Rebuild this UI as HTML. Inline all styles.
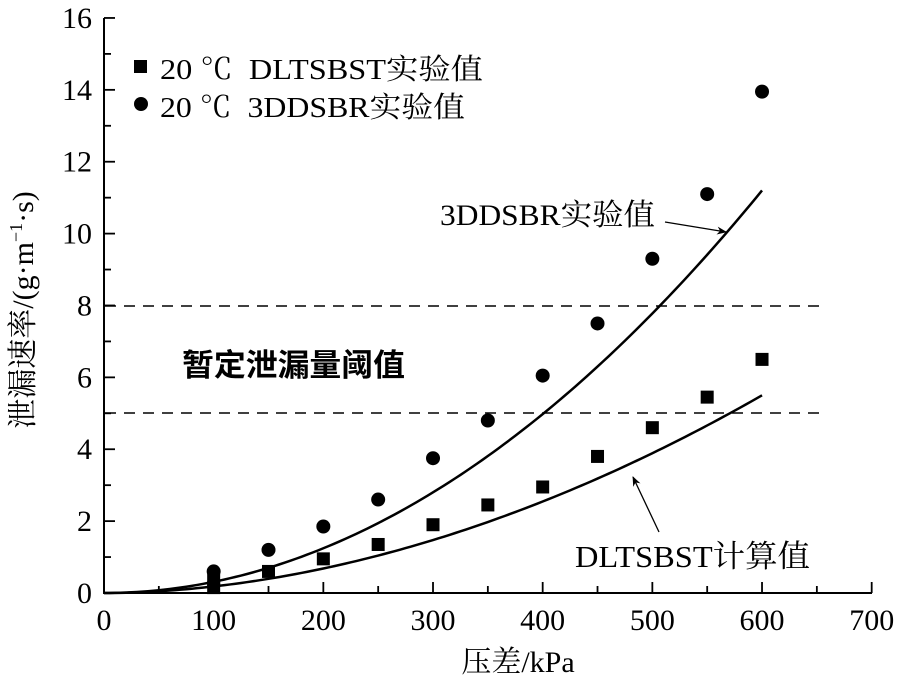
<!DOCTYPE html>
<html><head><meta charset="utf-8"><style>body{margin:0;background:#fff}text{white-space:pre}</style></head><body>
<svg width="900" height="681" xmlns="http://www.w3.org/2000/svg" font-family="'Liberation Serif','Noto Serif CJK SC',serif" fill="#000">
<defs><marker id="ah" markerWidth="10" markerHeight="8" refX="9" refY="4" orient="auto" markerUnits="userSpaceOnUse"><path d="M0,0 L10,4 L0,8 L3,4 z" fill="#000"/></marker></defs>
<g stroke="#000" stroke-width="2" fill="none">
<line x1="104" y1="18" x2="104" y2="594"/>
<line x1="103" y1="593" x2="872" y2="593"/>
</g>
<g stroke="#000" stroke-width="1.8" id="ticks"></g>
<g font-size="30" text-anchor="end" id="yl"></g>
<g font-size="30" text-anchor="middle" id="xl"></g>
<g stroke="#000" stroke-width="1.6" stroke-dasharray="11,8">
<line x1="105" y1="306" x2="820" y2="306"/>
<line x1="105" y1="413" x2="820" y2="413"/>
</g>
<path id="c1" fill="none" stroke="#000" stroke-width="2.5"/>
<path id="c2" fill="none" stroke="#000" stroke-width="2.5"/>
<g id="pts"></g>
<rect x="134" y="60" width="13" height="13"/>
<circle cx="141" cy="104" r="7"/>
<text x="160" y="79" font-size="29" textLength="323" lengthAdjust="spacingAndGlyphs">20 ℃  DLTSBST实验值</text>
<text x="160" y="117" font-size="29" textLength="305" lengthAdjust="spacingAndGlyphs">20 ℃  3DDSBR实验值</text>
<text x="440" y="225" font-size="30" textLength="215" lengthAdjust="spacingAndGlyphs">3DDSBR实验值</text>
<line x1="665" y1="222" x2="726" y2="232" stroke="#000" stroke-width="1.3" marker-end="url(#ah)"/>
<text x="182" y="376" font-size="31" font-weight="bold" font-family="'Noto Sans CJK SC',sans-serif" textLength="223" lengthAdjust="spacingAndGlyphs">暂定泄漏量阈值</text>
<text x="575" y="567" font-size="31" textLength="235" lengthAdjust="spacingAndGlyphs">DLTSBST计算值</text>
<line x1="659" y1="532" x2="633" y2="477" stroke="#000" stroke-width="1.3" marker-end="url(#ah)"/>
<text x="518" y="672" font-size="30" text-anchor="middle">压差/kPa</text>
<text transform="translate(33,310) rotate(-90)" font-size="30" text-anchor="middle">泄漏速率/(g·m<tspan font-size="18" dy="-11">−1</tspan><tspan dy="11">·s)</tspan></text>
</svg>
<script>
const X=v=>104+v*1.0967, Y=v=>593-v*35.94, ns="http://www.w3.org/2000/svg";
function el(p,t,a,txt){const e=document.createElementNS(ns,t);for(const k in a)e.setAttribute(k,a[k]);if(txt!=null)e.textContent=txt;document.getElementById(p).appendChild(e);}
for(let v=0;v<=16;v++){const y=Y(v);el('ticks','line',{x1:104,x2:v%2?111:115,y1:y,y2:y});if(v%2==0)el('yl','text',{x:92,y:y+10},v);}
for(let v=0;v<=700;v+=50){const x=X(v);el('ticks','line',{x1:x,x2:x,y1:593,y2:v%100?586:582});if(v%100==0)el('xl','text',{x:x,y:630},v);}
let d1='',d2='';for(let v=0;v<=600;v+=5){d1+=(v?'L':'M')+X(v)+','+Y(11.2*Math.pow(v/600,2))+' ';d2+=(v?'L':'M')+X(v)+','+Y(5.5*Math.pow(v/600,1.9))+' ';}
document.getElementById('c1').setAttribute('d',d1);document.getElementById('c2').setAttribute('d',d2);
const sq=[[100,0.35],[100,0.15],[150,0.6],[200,0.95],[250,1.35],[300,1.9],[350,2.45],[400,2.95],[450,3.8],[500,4.6],[550,5.45],[600,6.5]];
const ci=[[100,0.6],[150,1.2],[200,1.85],[250,2.6],[300,3.75],[350,4.8],[400,6.05],[450,7.5],[500,9.3],[550,11.1],[600,13.95]];
sq.forEach(p=>el('pts','rect',{x:X(p[0])-6.5,y:Y(p[1])-6.5,width:13,height:13}));
ci.forEach(p=>el('pts','circle',{cx:X(p[0]),cy:Y(p[1]),r:7}));
</script>
</body></html>
